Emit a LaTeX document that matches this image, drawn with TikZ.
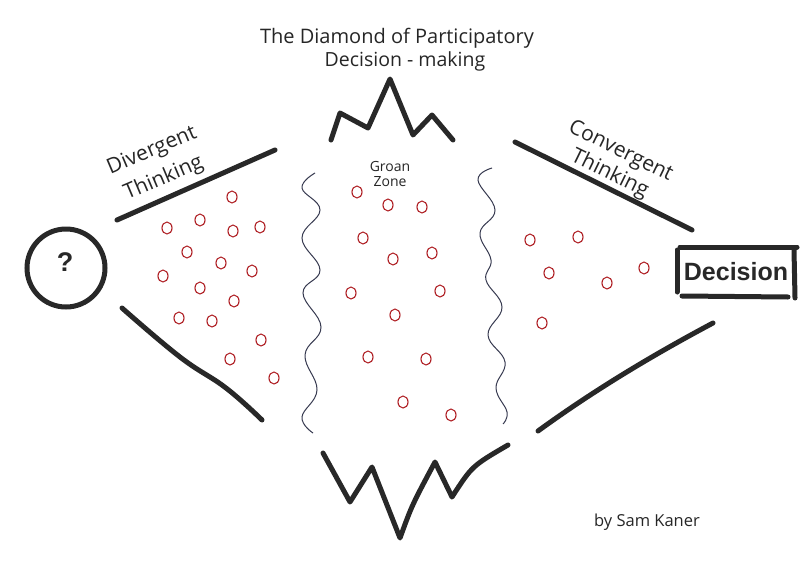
\documentclass[tikz,border=0pt]{standalone}
\usepackage{fontspec}
\setmainfont{Open Sans}
\newfontfamily\boldfont{Liberation Sans}
\definecolor{marker}{RGB}{40,40,40}
\definecolor{wavec}{RGB}{55,58,80}
\definecolor{dotred}{RGB}{175,30,35}
\tikzset{
  markerline/.style={draw=marker, line width=5pt, line cap=round, line join=round},
  waveline/.style={draw=wavec, line width=1pt},
  idea/.style={draw=dotred, line width=1.1pt},
  hand/.style={text=black!85, inner sep=0pt},
}
\newcommand{\idea}[1]{\draw[idea] #1 ellipse [x radius=5, y radius=6];}
\begin{document}
\begin{tikzpicture}[x=1pt,y=-1pt]
\useasboundingbox[fill=white] (0,0) rectangle (800,562);

% title
\node[hand, font=\fontsize{20}{22}\selectfont] (title1) at (397,38) {The Diamond of Participatory};
\node[hand, font=\fontsize{19.5}{22}\selectfont] (title2) at (405,61) {Decision - making};

% top zigzag
\draw[markerline] (331,140) -- (340,113) -- (368,128) -- (390,79) -- (413,135) -- (432,115) -- (453,140);

% bottom zigzag
\draw[markerline] (323,453) -- (350,502) -- (372,467) -- (400,538) .. controls (412,505) .. (435,462) -- (452,497) .. controls (472,466) .. (508,445);

% question circle
\node[draw=marker, line width=5pt, circle, minimum size=78pt, inner sep=0pt] (question) at (66,268) {};
\node[font=\boldfont\bfseries\fontsize{27}{28}\selectfont, text=marker] (qmark) at (65,262) {?};

% divergent lines
\draw[markerline] (117,220) -- (275,150);
\draw[markerline] plot[smooth, tension=0.7] coordinates {(122,308) (180,357) (226,388) (262,420)};

\node[hand, font=\fontsize{21}{30}\selectfont, rotate=23, align=center] (divergent) at (158,165) {Divergent\\Thinking};

% convergent lines
\draw[markerline] (515,142) -- (692,230);
\draw[markerline] (538,431) .. controls (593,391) and (651,356) .. (713,323);

\node[hand, font=\fontsize{21}{25}\selectfont, rotate=-26, align=center] (convergent) at (615,163) {Convergent\\Thinking};

% decision box
\draw[markerline] (680,247) -- (797,247);
\draw[markerline] (677,250) -- (677,292);
\draw[markerline] (682,296) -- (788,297);
\draw[markerline] (794,250) -- (795,298);
\node[font=\boldfont\bfseries\fontsize{25}{26}\selectfont, text=marker] (decision) at (736,272) {Decision};

% wavy lines
\draw[waveline] plot[smooth, tension=0.7] coordinates {(315,173) (302,188) (320,210) (302,238) (320,270) (303,293) (321,327) (305,355) (317,390) (302,417) (313,433)};
\draw[waveline] plot[smooth, tension=0.7] coordinates {(492,168) (478,180) (495,210) (480,233) (491,260) (486,280) (502,307) (488,335) (505,362) (496,388) (507,412) (503,424)};

\node[hand, font=\fontsize{14}{15}\selectfont, align=center] (groan) at (390,174) {Groan\\Zone};

% ideas: divergent
\foreach \p in {(232,197),(167,228),(200,220),(233,231),(260,227),(187,252),(221,263),(252,271),(163,276),(200,288),(234,301),(179,318),(212,321),(261,340),(230,359),(274,378)} {\idea{\p}}
% groan zone
\foreach \p in {(357,192),(388,205),(422,207),(363,238),(432,253),(393,259),(351,293),(440,291),(395,315),(368,357),(426,359),(403,402),(451,415)} {\idea{\p}}
% convergent
\foreach \p in {(530,240),(578,237),(549,273),(607,283),(644,268),(542,323)} {\idea{\p}}

\node[hand, font=\fontsize{16.5}{18}\selectfont] (author) at (647,522) {by Sam Kaner};
\end{tikzpicture}
\end{document}
